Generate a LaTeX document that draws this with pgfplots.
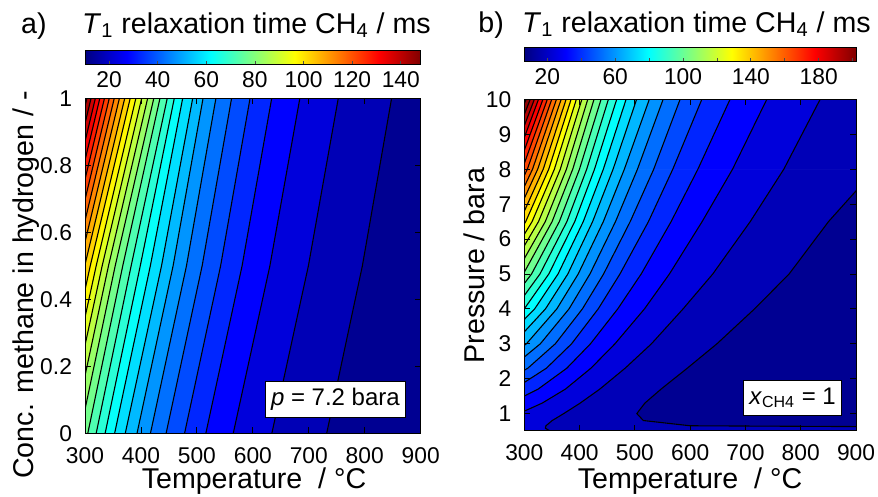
\documentclass[border=0pt]{standalone}
\usepackage{fontspec}
\setmainfont{Liberation Sans}
\usepackage{pgfplots}
\usepackage{pgfplotstable}
\pgfplotsset{compat=1.18}
\pgfplotsset{/pgf/number format/assume math mode=true}

% Panel a: contour-level mesh (T position of each level at x = -0.05, 0, 0.5, 1)
\pgfplotstableread{
T x z
1100 -0.05 10
1100 0 10
1100 0.5 10
1100 1 10
732 -0.05 15
732 0 15
795.8 0.5 15
848 1 15
634 -0.05 20
634 0 20
699.3 0.5 20
752.7 1 20
565 -0.05 25
565 0 25
630.5 0.5 25
684 1 25
516 -0.05 30
516 0 30
580.8 0.5 30
633.7 1 30
478 -0.05 35
478 0 35
542.4 0.5 35
595 1 35
445 -0.05 40
445 0 40
509.4 0.5 40
562 1 40
417 -0.05 45
417 0 45
481.4 0.5 45
534 1 45
393 -0.05 50
393 0 50
457.5 0.5 50
511 1 50
372 -0.05 55
372 0 55
436.8 0.5 55
492.5 1 55
353 -0.05 60
353 0 60
416.8 0.5 60
474.6 1 60
336 -0.05 65
336 0 65
398.8 0.5 65
459.6 1 65
320 -0.05 70
320 0 70
382.5 0.5 70
447 1 70
305 -0.05 75
305 0 75
367.5 0.5 75
434 1 75
291 -0.05 80
291 0 80
354 0.5 80
423 1 80
278 -0.05 85
278 0 85
342 0.5 85
412 1 85
266 -0.05 90
266 0 90
330.7 0.5 90
401.3 1 90
255 -0.05 95
255 0 95
320 0.5 95
390.9 1 95
244 -0.05 100
244 0 100
309.4 0.5 100
380.8 1 100
234 -0.05 105
234 0 105
299.5 0.5 105
371 1 105
224 -0.05 110
224 0 110
289.8 0.5 110
361.5 1 110
215 -0.05 115
215 0 115
280.7 0.5 115
352.3 1 115
206 -0.05 120
206 0 120
271.7 0.5 120
343.4 1 120
197 -0.05 125
197 0 125
262.9 0.5 125
334.8 1 125
189 -0.05 130
189 0 130
254.8 0.5 130
326.5 1 130
181 -0.05 135
181 0 135
246.8 0.5 135
318.5 1 135
173 -0.05 140
173 0 140
238.9 0.5 140
310.8 1 140
165 -0.05 145
165 0 145
231.2 0.5 145
303.4 1 145
157 -0.05 150
157 0 150
223.7 0.5 150
296.3 1 150
}\tabA

% Panel b: contour-level mesh (T position of each level at 15 pressures)
\pgfplotstableread{
T p z
1600 0.45 6.4
1600 0.5 6.4
1600 0.58 6.4
1600 0.65 6.4
1600 0.8 6.4
1600 1 6.4
1600 1.3 6.4
1600 1.7 6.4
1600 2.3 6.4
1600 3 6.4
1600 4 6.4
1600 5 6.4
1600 6.5 6.4
1600 8 6.4
1600 10 6.4
1500 0.45 13.4
1500 0.5 13.4
1500 0.58 13.4
600 0.65 13.4
515.3 0.8 13.4
503.5 1 13.4
518.1 1.3 13.4
547.3 1.7 13.4
594.8 2.3 13.4
648.5 3 13.4
716.5 4 13.4
779 5 13.4
850.2 6.5 13.4
935 8 13.4
1040 10 13.4
346.5 0.45 20.4
346.5 0.5 20.4
338.1 0.58 20.4
339.1 0.65 20.4
350.5 0.8 20.4
371.4 1 20.4
401.1 1.3 20.4
436.5 1.7 20.4
482.4 2.3 20.4
530 3 20.4
587.2 4 20.4
640.9 5 20.4
708.6 6.5 20.4
769.3 8 20.4
835 10 20.4
184.4 0.45 27.4
184.4 0.5 27.4
204.7 0.58 27.4
220.1 0.65 27.4
254.1 0.8 27.4
290.4 1 27.4
332.4 1.3 27.4
374.3 1.7 27.4
420.5 2.3 27.4
464 3 27.4
517.4 4 27.4
562.5 5 27.4
621.6 6.5 27.4
676.6 8 27.4
738.5 10 27.4
44.4 0.45 34.4
44.4 0.5 34.4
84 0.58 34.4
112.3 0.65 34.4
166.6 0.8 34.4
220.5 1 34.4
275 1.3 34.4
324.9 1.7 34.4
376.9 2.3 34.4
419.7 3 34.4
469 4 34.4
511.4 5 34.4
565.5 6.5 34.4
613.9 8 34.4
672 10 34.4
-95.6 0.45 41.4
-95.6 0.5 41.4
-36 0.58 41.4
4.5 0.65 41.4
79.1 0.8 41.4
150.5 1 41.4
221.2 1.3 41.4
281.3 1.7 41.4
340 2.3 41.4
385.5 3 41.4
433.7 4 41.4
473 5 41.4
524.5 6.5 41.4
568.5 8 41.4
621 10 41.4
-235.6 0.45 48.4
-235.6 0.5 48.4
-156.7 0.58 48.4
-103.3 0.65 48.4
-8.4 0.8 48.4
80.5 1 48.4
167.3 1.3 48.4
240.2 1.7 48.4
306.4 2.3 48.4
356.1 3 48.4
405.1 4 48.4
443.4 5 48.4
491.5 6.5 48.4
534 8 48.4
581.7 10 48.4
-375.6 0.45 55.4
-375.6 0.5 55.4
-277.4 0.58 55.4
-211 0.65 55.4
-95.9 0.8 55.4
10.5 1 55.4
113.5 1.3 55.4
199 1.7 55.4
275.5 2.3 55.4
329 3 55.4
380.9 4 55.4
418.7 5 55.4
464.9 6.5 55.4
504.6 8 55.4
551 10 55.4
-515.6 0.45 62.4
-515.6 0.5 62.4
-398.1 0.58 62.4
-318.8 0.65 62.4
-183.4 0.8 62.4
-59.5 1 62.4
59.7 1.3 62.4
157.8 1.7 62.4
245.1 2.3 62.4
303.8 3 62.4
358.8 4 62.4
397.5 5 62.4
442.9 6.5 62.4
480.9 8 62.4
526 10 62.4
-655.6 0.45 69.4
-655.6 0.5 69.4
-518.8 0.58 69.4
-426.5 0.65 69.4
-270.9 0.8 69.4
-129.5 1 69.4
5.8 1.3 69.4
116.6 1.7 69.4
214.6 2.3 69.4
280.1 3 69.4
338.3 4 69.4
378.7 5 69.4
423.5 6.5 69.4
460.5 8 69.4
503 10 69.4
-795.6 0.45 76.4
-795.6 0.5 76.4
-639.5 0.58 76.4
-534.2 0.65 76.4
-358.4 0.8 76.4
-199.5 1 76.4
-48.1 1.3 76.4
75.5 1.7 76.4
184.2 2.3 76.4
256.8 3 76.4
318.7 4 76.4
361 5 76.4
406.6 6.5 76.4
442.9 8 76.4
484 10 76.4
-935.6 0.45 83.4
-935.6 0.5 83.4
-760.2 0.58 83.4
-641.9 0.65 83.4
-445.9 0.8 83.4
-269.5 1 83.4
-101.9 1.3 83.4
34.3 1.7 83.4
153.7 2.3 83.4
233.5 3 83.4
299.9 4 83.4
344.3 5 83.4
391.2 6.5 83.4
426.9 8 83.4
467 10 83.4
-1075.6 0.45 90.4
-1075.6 0.5 90.4
-880.9 0.58 90.4
-749.6 0.65 90.4
-533.4 0.8 90.4
-339.5 1 90.4
-155.7 1.3 90.4
-6.9 1.7 90.4
123.3 2.3 90.4
210.1 3 90.4
282.4 4 90.4
328.3 5 90.4
377 6.5 90.4
412.8 8 90.4
452 10 90.4
-1215.6 0.45 97.4
-1215.6 0.5 97.4
-1001.6 0.58 97.4
-857.3 0.65 97.4
-620.9 0.8 97.4
-409.5 1 97.4
-209.6 1.3 97.4
-48.1 1.7 97.4
92.9 2.3 97.4
186.8 3 97.4
264.9 4 97.4
313.1 5 97.4
363.3 6.5 97.4
399.7 8 97.4
438.7 10 97.4
-1355.6 0.45 104.4
-1355.6 0.5 104.4
-1122.3 0.58 104.4
-965 0.65 104.4
-708.4 0.8 104.4
-479.5 1 104.4
-263.4 1.3 104.4
-89.3 1.7 104.4
62.4 2.3 104.4
163.5 3 104.4
247.4 4 104.4
298.2 5 104.4
350.2 6.5 104.4
387.5 8 104.4
426 10 104.4
-1495.6 0.45 111.4
-1495.6 0.5 111.4
-1243 0.58 111.4
-1072.7 0.65 111.4
-795.9 0.8 111.4
-549.5 1 111.4
-317.3 1.3 111.4
-130.4 1.7 111.4
32 2.3 111.4
140.1 3 111.4
229.9 4 111.4
284.2 5 111.4
337.9 6.5 111.4
376.1 8 111.4
414.7 10 111.4
-1635.6 0.45 118.4
-1635.6 0.5 118.4
-1363.7 0.58 118.4
-1180.4 0.65 118.4
-883.4 0.8 118.4
-619.5 1 118.4
-371.1 1.3 118.4
-171.6 1.7 118.4
1.6 2.3 118.4
116.8 3 118.4
212.4 4 118.4
270.2 5 118.4
325.6 6.5 118.4
365 8 118.4
404 10 118.4
-1775.6 0.45 125.4
-1775.6 0.5 125.4
-1484.4 0.58 125.4
-1288.1 0.65 125.4
-970.9 0.8 125.4
-689.5 1 125.4
-424.9 1.3 125.4
-212.8 1.7 125.4
-28.9 2.3 125.4
93.5 3 125.4
194.9 4 125.4
256.2 5 125.4
314 6.5 125.4
354.3 8 125.4
394 10 125.4
-1915.6 0.45 132.4
-1915.6 0.5 132.4
-1605.1 0.58 132.4
-1395.8 0.65 132.4
-1058.4 0.8 132.4
-759.5 1 132.4
-478.8 1.3 132.4
-253.9 1.7 132.4
-59.3 2.3 132.4
70.2 3 132.4
177.4 4 132.4
242.2 5 132.4
302.5 6.5 132.4
344.1 8 132.4
384.5 10 132.4
-2055.6 0.45 139.4
-2055.6 0.5 139.4
-1725.8 0.58 139.4
-1503.5 0.65 139.4
-1145.9 0.8 139.4
-829.5 1 139.4
-532.6 1.3 139.4
-295.1 1.7 139.4
-89.8 2.3 139.4
46.8 3 139.4
159.9 4 139.4
228.2 5 139.4
291.5 6.5 139.4
334.1 8 139.4
375.5 10 139.4
-2195.6 0.45 146.4
-2195.6 0.5 146.4
-1846.5 0.58 146.4
-1611.2 0.65 146.4
-1233.4 0.8 146.4
-899.5 1 146.4
-586.5 1.3 146.4
-336.3 1.7 146.4
-120.2 2.3 146.4
23.5 3 146.4
142.4 4 146.4
214.2 5 146.4
280.7 6.5 146.4
324.1 8 146.4
366.5 10 146.4
-2335.6 0.45 153.4
-2335.6 0.5 153.4
-1967.2 0.58 153.4
-1718.9 0.65 153.4
-1320.9 0.8 153.4
-969.5 1 153.4
-640.3 1.3 153.4
-377.5 1.7 153.4
-150.6 2.3 153.4
0.2 3 153.4
124.9 4 153.4
200.2 5 153.4
269.9 6.5 153.4
314.8 8 153.4
358 10 153.4
-2475.6 0.45 160.4
-2475.6 0.5 160.4
-2087.9 0.58 160.4
-1826.6 0.65 160.4
-1408.4 0.8 160.4
-1039.5 1 160.4
-694.1 1.3 160.4
-418.7 1.7 160.4
-181.1 2.3 160.4
-23.2 3 160.4
107.4 4 160.4
186.2 5 160.4
259.2 6.5 160.4
305.4 8 160.4
349.5 10 160.4
-2615.6 0.45 167.4
-2615.6 0.5 167.4
-2208.6 0.58 167.4
-1934.3 0.65 167.4
-1495.9 0.8 167.4
-1109.5 1 167.4
-748 1.3 167.4
-459.8 1.7 167.4
-211.5 2.3 167.4
-46.5 3 167.4
89.9 4 167.4
172.2 5 167.4
248.4 6.5 167.4
296.2 8 167.4
341.5 10 167.4
-2755.6 0.45 174.4
-2755.6 0.5 174.4
-2329.3 0.58 174.4
-2042 0.65 174.4
-1583.4 0.8 174.4
-1179.5 1 174.4
-801.8 1.3 174.4
-501 1.7 174.4
-241.9 2.3 174.4
-69.8 3 174.4
72.4 4 174.4
158.2 5 174.4
237.6 6.5 174.4
287.4 8 174.4
333.5 10 174.4
-2895.6 0.45 181.4
-2895.6 0.5 181.4
-2450 0.58 181.4
-2149.7 0.65 181.4
-1670.9 0.8 181.4
-1249.5 1 181.4
-855.7 1.3 181.4
-542.2 1.7 181.4
-272.4 2.3 181.4
-93.2 3 181.4
54.9 4 181.4
144.2 5 181.4
226.8 6.5 181.4
278.7 8 181.4
325.5 10 181.4
-3035.6 0.45 188.4
-3035.6 0.5 188.4
-2570.7 0.58 188.4
-2257.4 0.65 188.4
-1758.4 0.8 188.4
-1319.5 1 188.4
-909.5 1.3 188.4
-583.4 1.7 188.4
-302.8 2.3 188.4
-116.5 3 188.4
37.4 4 188.4
130.2 5 188.4
216.1 6.5 188.4
269.9 8 188.4
318 10 188.4
-3175.6 0.45 195.4
-3175.6 0.5 195.4
-2691.4 0.58 195.4
-2365.1 0.65 195.4
-1845.9 0.8 195.4
-1389.5 1 195.4
-963.3 1.3 195.4
-624.5 1.7 195.4
-333.2 2.3 195.4
-139.8 3 195.4
19.9 4 195.4
116.2 5 195.4
205.3 6.5 195.4
261.2 8 195.4
310.5 10 195.4
-3315.6 0.45 202.4
-3315.6 0.5 202.4
-2812.1 0.58 202.4
-2472.8 0.65 202.4
-1933.4 0.8 202.4
-1459.5 1 202.4
-1017.2 1.3 202.4
-665.7 1.7 202.4
-363.7 2.3 202.4
-163.2 3 202.4
2.4 4 202.4
102.2 5 202.4
194.5 6.5 202.4
252.4 8 202.4
303 10 202.4
-3455.6 0.45 209.4
-3455.6 0.5 209.4
-2932.8 0.58 209.4
-2580.5 0.65 209.4
-2020.9 0.8 209.4
-1529.5 1 209.4
-1071 1.3 209.4
-706.9 1.7 209.4
-394.1 2.3 209.4
-186.5 3 209.4
-15.1 4 209.4
88.2 5 209.4
183.8 6.5 209.4
243.7 8 209.4
295.7 10 209.4
}\tabB

\pgfplotsset{
  panel/.style={
    scale only axis, view={0}{90}, axis on top,
    enlargelimits=false, clip=true,
    tick align=inside, major tick length=3pt,
    ztick=\empty,
    xtick={300,400,...,900},
    axis line style={line width=0.5pt},
    every tick/.style={black, line width=0.4pt},
    tick label style={font=\fontsize{11.4}{13}\selectfont},
    xticklabel style={yshift=-3.5pt},
    yticklabel style={xshift=-3pt},
    colormap/jet,
    colorbar horizontal,
  },
  cbar/.style={
    at={(parent axis.north west)}, anchor=south west,
    scale only axis, height=7pt,
    tick align=inside, major tick length=2pt,
    xtick pos=left, xticklabel pos=left,
    axis line style={line width=0.5pt},
    every tick/.style={black!70, line width=0.4pt},
    ticklabel style={font=\fontsize{11.4}{13}\selectfont},
  },
}

\begin{document}
\begin{tikzpicture}[x=1pt,y=1pt]
\path[use as bounding box] (0,0) rectangle (439,248.5);

% ---------------- panel a ----------------
\begin{axis}[panel,
  at={(42.5pt,31.85pt)}, anchor=south west,
  width=167.85pt, height=167.5pt,
  xmin=300, xmax=900, ymin=0, ymax=1,
  ytick={0,0.2,0.4,0.6,0.8,1},
  point meta min=10.1, point meta max=148.2,
  colorbar style={cbar, width=167.85pt, yshift=25.4pt,
    xtick={20,40,...,140}},
]
\addplot3[surf, shader=faceted, faceted color=mapped color,
  mesh/rows=29, mesh/cols=4] table[x=T, y=x, z=z] {\tabA};
\addplot[black, line width=0.55pt, restrict y to domain=-0.01:2,
  unbounded coords=jump] table[x=T, y=x] {\tabA};
\end{axis}

% ---------------- panel b ----------------
\begin{axis}[panel,
  at={(262.15pt,33pt)}, anchor=south west,
  width=165.85pt, height=165.75pt,
  xmin=300, xmax=900, ymin=0.5, ymax=10,
  ytick={1,2,3,4,5,6,7,8,9,10},
  point meta min=6.4, point meta max=202,
  colorbar style={cbar, width=165.85pt, yshift=27.5pt,
    xtick={20,40,...,200},
    xticklabels={20,,60,,100,,140,,180,}},
]
\addplot3[surf, shader=faceted, faceted color=mapped color,
  mesh/rows=30, mesh/cols=15] table[x=T, y=p, z=z] {\tabB};
\addplot[black, line width=0.55pt, restrict y to domain=0.48:11,
  unbounded coords=jump] table[x=T, y=p] {\tabB};
\end{axis}

% text boxes
\node[draw=black, fill=white, line width=0.5pt, inner xsep=3pt, inner ysep=3.5pt,
  font=\fontsize{12}{14}\selectfont] at (167.7pt,48.9pt) {\textit{p} = 7.2 bara};
\node[draw=black, fill=white, line width=0.5pt, inner xsep=3pt, inner ysep=3.5pt,
  font=\fontsize{12}{14}\selectfont] at (396.3pt,49.5pt) {\textit{x}\textsubscript{CH4} = 1};

% titles
\node[anchor=base west, inner sep=0pt, font=\fontsize{14.3}{16}\selectfont] at (10.35pt,231.85pt) {a)};
\node[anchor=base west, inner sep=0pt, font=\fontsize{14.3}{16}\selectfont] at (40.85pt,231.85pt)
  {\textit{T}\textsubscript{1} relaxation time CH\textsubscript{4} / ms};
\node[anchor=base west, inner sep=0pt, font=\fontsize{14.3}{16}\selectfont] at (239pt,232.2pt) {b)};
\node[anchor=base west, inner sep=0pt, font=\fontsize{14.3}{16}\selectfont] at (260.85pt,232.2pt)
  {\textit{T}\textsubscript{1} relaxation time CH\textsubscript{4} / ms};

% axis labels
\node[anchor=base, inner sep=0pt, font=\fontsize{14.3}{16}\selectfont] at (127pt,4.25pt) {Temperature\ \ / °C};
\node[anchor=base, inner sep=0pt, font=\fontsize{14.3}{16}\selectfont] at (345pt,4.25pt) {Temperature\ \ / °C};
\node[anchor=base, inner sep=0pt, rotate=90, font=\fontsize{14.3}{16}\selectfont] at (16.5pt,106pt) {Conc. methane in hydrogen / -};
\node[anchor=base, inner sep=0pt, rotate=90, font=\fontsize{14.3}{16}\selectfont] at (242pt,115.7pt) {Pressure / bara};
\end{tikzpicture}
\end{document}
